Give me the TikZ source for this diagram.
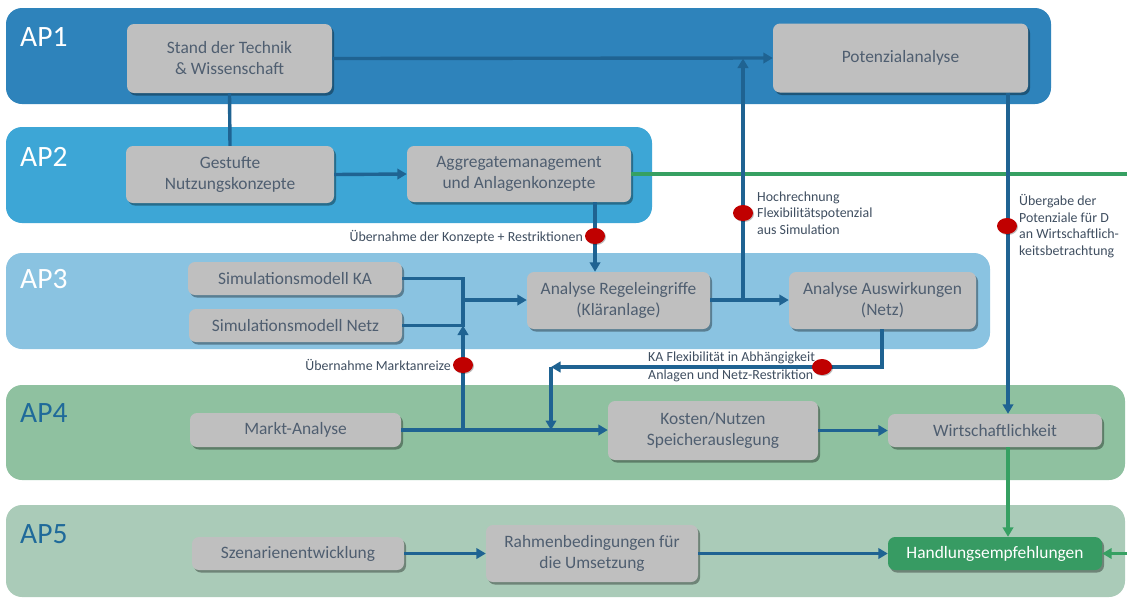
\documentclass[tikz,border=0pt]{standalone}
\usepackage{fontspec}
\setmainfont{Carlito}
\usetikzlibrary{arrows.meta,shadows,shapes.geometric}

\definecolor{apone}{HTML}{2E83BB}
\definecolor{aptwo}{HTML}{3DA6D6}
\definecolor{apthree}{HTML}{8AC3E1}
\definecolor{apfour}{HTML}{8FC1A0}
\definecolor{apfive}{HTML}{AACBB8}
\definecolor{boxgray}{HTML}{BFBFBF}
\definecolor{boxtext}{HTML}{4F5E70}
\definecolor{labeltext}{HTML}{3F4E60}
\definecolor{lineblue}{HTML}{1F6392}
\definecolor{linegreen}{HTML}{36A062}
\definecolor{actgreen}{HTML}{379B63}
\definecolor{dotred}{HTML}{C00000}
\definecolor{aplabel}{HTML}{1F6A9A}

\tikzset{
  band/.style={draw=none, rounded corners=16pt},
  aplbl/.style={anchor=west, inner sep=0pt, font=\fontsize{29.5}{30}\selectfont},
  box/.style={draw=none, fill=boxgray, rounded corners=7pt, align=center,
    text=boxtext, font=\fontsize{17.4}{21}\selectfont, inner sep=0pt,
    drop shadow={shadow xshift=2pt, shadow yshift=-2.5pt, opacity=0.35, fill=black}},
  actbox/.style={box, fill=actgreen, text=white},
  link/.style={draw=lineblue, line width=3.4pt},
  flow/.style={link, -{Triangle[length=9.5pt,width=10.5pt]}},
  glink/.style={draw=linegreen, line width=3.2pt},
  gflow/.style={glink, -{Triangle[length=9.5pt,width=10.5pt]}},
  dot/.style={ellipse, fill=dotred, draw=none, minimum width=20pt, minimum height=16pt,
    inner sep=0pt, drop shadow={shadow xshift=1pt, shadow yshift=-1pt, opacity=0.25, fill=black}},
  note/.style={inner sep=0pt, text=labeltext, font=\fontsize{13.9}{16.6}\selectfont, align=left},
}

\begin{document}
\begin{tikzpicture}[x=1pt,y=-1pt]
\useasboundingbox (0,0) rectangle (1127,598);
\fill[white] (0,0) rectangle (1127,598);

% work package bands
\fill[band, apone]   (6,8)   rectangle (1051,104);
\fill[band, aptwo]   (6,127) rectangle (652,223);
\fill[band, apthree] (6,253) rectangle (990,349);
\fill[band, apfour]  (6,385) rectangle (1125,480);
\fill[band, apfive]  (6,505) rectangle (1125,597);

\node[aplbl, text=white]   (ap1) at (20,37)  {AP1};
\node[aplbl, text=white]   (ap2) at (20,157) {AP2};
\node[aplbl, text=white]   (ap3) at (20,279) {AP3};
\node[aplbl, text=aplabel] (ap4) at (20,413) {AP4};
\node[aplbl, text=aplabel] (ap5) at (20,534) {AP5};

% boxes
\node[box, minimum width=205pt, minimum height=69pt] (stand)   at (229.5,58.5) {Stand der Technik\\\& Wissenschaft};
\node[box, minimum width=255pt, minimum height=69pt] (poten)   at (900.5,58)   {Potenzialanalyse};
\node[box, minimum width=208pt, minimum height=57pt] (gest)    at (230,174.5)  {Gestufte\\Nutzungskonzepte};
\node[box, minimum width=224pt, minimum height=56pt] (aggr)    at (519,174)    {Aggregatemanagement\\und Anlagenkonzepte};
\node[box, minimum width=214pt, minimum height=33pt] (simka)   at (295,278.5)  {Simulationsmodell KA};
\node[box, minimum width=213pt, minimum height=33pt] (simnetz) at (295.5,325.5){Simulationsmodell Netz};
\node[box, minimum width=183pt, minimum height=57pt] (regel)   at (618.5,300.5){Analyse Regeleingriffe\\(Kläranlage)};
\node[box, minimum width=187pt, minimum height=57pt] (ausw)    at (882.5,300.5){Analyse Auswirkungen\\(Netz)};
\node[box, minimum width=211pt, minimum height=34pt] (markt)   at (295.5,430)  {Markt-Analyse};
\node[box, minimum width=210pt, minimum height=59pt] (kosten)  at (713,430.5)  {Kosten/Nutzen\\Speicherauslegung};
\node[box, minimum width=214pt, minimum height=33pt] (wirt)    at (995,430.5)  {Wirtschaftlichkeit};
\node[box, minimum width=212pt, minimum height=33pt] (szen)    at (298,553.5)  {Szenarienentwicklung};
\node[box, minimum width=212pt, minimum height=57pt] (rahmen)  at (592,553.5)  {Rahmenbedingungen für\\die Umsetzung};
\node[actbox, minimum width=214pt, minimum height=33pt] (handl) at (995,553.5) {Handlungsempfehlungen};

% junction points and free ends
\coordinate (jsim)   at (463,300);
\coordinate (jhoch)  at (743,300);
\coordinate (cflex)  at (551,367);
\coordinate (eaggr)  at (1127,174);
\coordinate (ehandl) at (1127,553.5);

% AP1 / AP2 connectors
\draw[flow] (stand.east) -- (poten.west);
\draw[link] (stand.south) -- (gest.north);
\draw[flow] (gest.east) -- (aggr.east -| aggr.west);
\draw[glink] (aggr.east) -- (eaggr);
\draw[flow] (aggr.south -| 595,0) -- (regel.north -| 595,0);

% AP3 connectors
\draw[link] (simka.east) -| (jsim);
\draw[link] (simnetz.east) -| (jsim);
\draw[flow] (jsim) -- (regel.west |- jsim);
\draw[flow] (regel.east |- jhoch) -- (ausw.west |- jhoch);
\draw[flow] (jhoch) -- (jhoch |- stand.east);
\draw[flow] (ausw.south -| 882,0) |- (cflex);
\draw[flow] (cflex) -- (cflex |- markt.east);

% AP4 connectors
\draw[flow] (markt.east) -- (kosten.west |- markt.east);
\draw[flow] (markt.east -| jsim) -- (simnetz.east -| jsim);
\draw[flow] (kosten.east |- wirt.west) -- (wirt.west);
\draw[flow] (poten.south -| 1008,0) -- (wirt.north -| 1008,0);
\draw[gflow] (wirt.south -| 1008,0) -- (handl.north -| 1008,0);

% AP5 connectors
\draw[flow] (szen.east) -- (rahmen.west);
\draw[flow] (rahmen.east) -- (handl.west);
\draw[gflow] (ehandl) -- (handl.east);

% hand-over markers
\node[dot] (dkonz)  at (595,236) {};
\node[dot] (dmarkt) at (463,365) {};
\node[dot] (dhoch)  at (743,213) {};
\node[dot] (dpot)   at (1007,226) {};
\node[dot] (dflex)  at (822,367) {};

\node[note, anchor=east] (lkonz)  at (583,237) {Übernahme der Konzepte + Restriktionen};
\node[note, anchor=east] (lmarkt) at (451,365) {Übernahme Marktanreize};
\node[note, anchor=west] (lhoch)  at (757,213) {Hochrechnung\\Flexibilitätspotenzial\\aus Simulation};
\node[note, anchor=west] (lpot)   at (1019,226) {Übergabe der\\Potenziale für D\\an Wirtschaftlich-\\keitsbetrachtung};
\node[note, anchor=west] (lflex1) at (648,358) {KA Flexibilität in Abhängigkeit};
\node[note, anchor=west] (lflex2) at (648,376) {Anlagen und Netz-Restriktion};
\end{tikzpicture}
\end{document}
